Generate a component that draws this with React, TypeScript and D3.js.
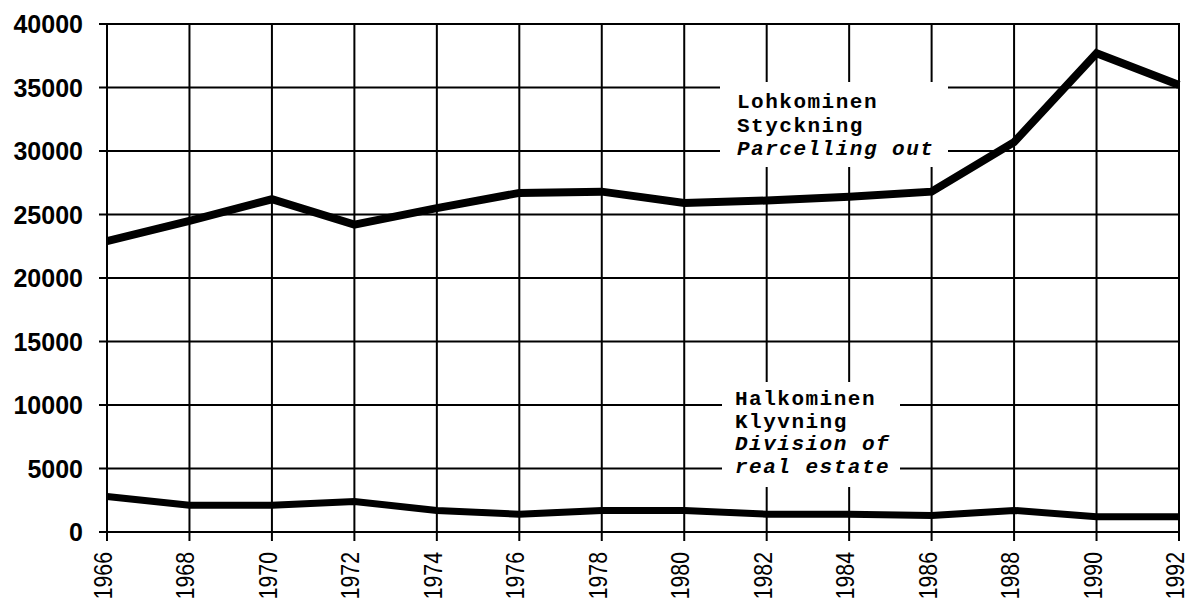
import React from "react";
import * as d3 from "d3";

const years = [1966, 1968, 1970, 1972, 1974, 1976, 1978, 1980, 1982, 1984, 1986, 1988, 1990, 1992];
const parcelling = [22900, 24500, 26200, 24200, 25500, 26700, 26800, 25900, 26100, 26400, 26800, 30700, 37700, 35200];
const division = [2800, 2100, 2100, 2400, 1700, 1400, 1700, 1700, 1400, 1400, 1300, 1700, 1200, 1200];
const yTicks = [0, 5000, 10000, 15000, 20000, 25000, 30000, 35000, 40000];
const labelTop = ["Lohkominen", "Styckning", "Parcelling out"];
const labelBottom = ["Halkominen", "Klyvning", "Division of", "real estate"];

const W = 1188;
const H = 601;
const left = 107;
const right = 1179;
const top = 24;
const bottom = 532;

export default function App() {
  const x = d3.scaleLinear().domain([1966, 1992]).range([left, right]);
  const y = d3.scaleLinear().domain([0, 40000]).range([bottom, top]);
  const line = d3
    .line<number>()
    .x((_, i) => x(years[i]))
    .y((d) => y(d))
    .curve(d3.curveLinear);

  const monoFont = "'Liberation Mono', 'Courier New', monospace";
  const sansFont = "'Liberation Sans', Arial, sans-serif";

  return (
    <svg
      width={W}
      height={H}
      style={{ position: "absolute", left: 0, top: 0, background: "#fff" }}
    >
      <rect x={0} y={0} width={W} height={H} fill="#fff" />
      {yTicks.map((t) => (
        <line key={"h" + t} x1={left - 8} x2={right + 1} y1={y(t)} y2={y(t)} stroke="#000" strokeWidth={2} />
      ))}
      {years.map((yr) => (
        <line key={"v" + yr} x1={x(yr)} x2={x(yr)} y1={top} y2={bottom + 9} stroke="#000" strokeWidth={2} />
      ))}
      {yTicks.map((t) => (
        <text
          key={"yl" + t}
          x={83}
          y={y(t)}
          dy="0.36em"
          textAnchor="end"
          fontFamily={sansFont}
          fontWeight="bold"
          fontSize={25}
          fill="#000"
        >
          {t}
        </text>
      ))}
      {years.map((yr) => (
        <text
          key={"xl" + yr}
          transform={`translate(${x(yr) - 4},${bottom + 20}) rotate(-90) scale(0.85,1)`}
          dy="0.36em"
          textAnchor="end"
          fontFamily={sansFont}
          fontSize={25}
          fill="#000"
        >
          {yr}
        </text>
      ))}
      <rect x={720} y={82} width={228} height={85} fill="#fff" />
      <rect x={722} y={382} width={178} height={105} fill="#fff" />
      {labelTop.map((s, i) => (
        <text
          key={"lt" + i}
          x={737}
          y={108 + i * 23.5}
          fontFamily={monoFont}
          fontWeight="bold"
          fontStyle={i === 2 ? "italic" : "normal"}
          fontSize={21}
          letterSpacing={1.5}
          fill="#000"
        >
          {s}
        </text>
      ))}
      {labelBottom.map((s, i) => (
        <text
          key={"lb" + i}
          x={735}
          y={405 + i * 22.5}
          fontFamily={monoFont}
          fontWeight="bold"
          fontStyle={i >= 2 ? "italic" : "normal"}
          fontSize={21}
          letterSpacing={1.5}
          fill="#000"
        >
          {s}
        </text>
      ))}
      <path d={line(parcelling) || ""} fill="none" stroke="#000" strokeWidth={8} strokeLinejoin="miter" />
      <path d={line(division) || ""} fill="none" stroke="#000" strokeWidth={7} strokeLinejoin="miter" />
    </svg>
  );
}
